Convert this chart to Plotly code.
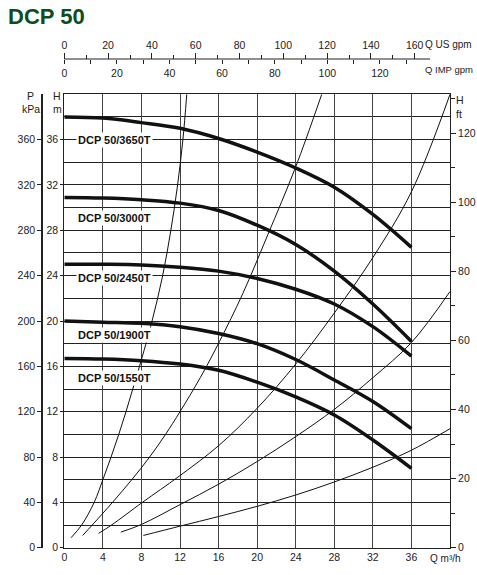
import plotly.graph_objects as go

# pump curves, Q in m3/h, H in m
q_pump = [0, 4, 8, 12, 16, 20, 24, 28, 32, 36]
h_3650 = [38.0, 37.9, 37.5, 37.0, 36.1, 34.9, 33.5, 31.8, 29.4, 26.5]
h_3000 = [30.9, 30.85, 30.7, 30.4, 29.75, 28.45, 26.75, 24.4, 21.5, 18.2]
h_2450 = [25.0, 25.0, 24.95, 24.75, 24.4, 23.75, 22.8, 21.5, 19.5, 16.9]
h_1900 = [20.0, 19.9, 19.8, 19.5, 18.9, 18.0, 16.6, 14.8, 12.9, 10.5]
h_1550 = [16.7, 16.65, 16.5, 16.2, 15.65, 14.6, 13.3, 11.7, 9.5, 7.0]
pump_names = ["DCP 50/3650T", "DCP 50/3000T", "DCP 50/2450T", "DCP 50/1900T", "DCP 50/1550T"]
label_h = [36.0, 29.1, 23.8, 18.8, 14.95]

# system curves (thin lines)
sys_a_q = [0.7, 1.8, 3.1, 4.0, 4.85, 5.65, 6.4, 7.1, 7.8, 9.1, 10.2, 11.05, 11.75, 12.3, 12.7]
sys_a_h = [0.88, 2, 4, 6, 8, 10, 12, 14, 16, 20, 24, 28, 32, 36, 40]
sys_b_q = [1.9, 2.9, 5.0, 7.0, 8.85, 10.5, 12.0, 14.1, 16.1, 18.5, 21.1, 24.0, 26.7]
sys_b_h = [1.08, 2, 4, 6, 8, 10, 12, 15, 18.2, 22.4, 27.6, 33.6, 40]
sys_c_q = [3.55, 4.9, 8.1, 11.9, 16.0, 20.0, 24.0, 28.0, 32.0, 36.0, 40.0]
sys_c_h = [1.26, 2, 4, 6.3, 9.0, 12.3, 16.2, 20.7, 25.6, 31.4, 40]
sys_d_q = [5.86, 8.0, 12.0, 16.0, 20.0, 24.0, 28.0, 32.0, 36.0, 40.0]
sys_d_h = [1.37, 2.05, 3.8, 5.6, 7.6, 9.8, 12.2, 15.0, 18.1, 22.6]
sys_e_q = [8.2, 12.0, 16.0, 20.0, 24.0, 28.0, 32.0, 36.0, 40.0]
sys_e_h = [1.08, 1.9, 2.75, 3.65, 4.65, 5.8, 7.1, 8.6, 10.5]

q_ticks = list(range(0, 40, 4))
h_ticks = list(range(0, 40, 4))
kpa_ticks = list(range(0, 400, 40))
ft_ticks = list(range(0, 140, 20))
ft_minor = list(range(10, 140, 20))
us_ticks = list(range(0, 180, 20))
us_minor = list(range(10, 160, 20))
imp_ticks = list(range(0, 140, 20))
imp_minor = list(range(10, 140, 20))

US_PER_M3H = 4.403
IMP_PER_M3H = 3.666
FT_PER_M = 1 / 0.3048

W, H = 477, 575
def px(x):
  return x / W
def py(y):
  return 1 - y / H

FONT = "Liberation Sans, Arial, sans-serif"
tick_font = dict(family=FONT, size=10.5, color="#222")

x0, x1 = px(64.3), px(450)
y0, y1 = py(547.7), py(94.3)

fig = go.Figure()

for q, h in [(sys_a_q, sys_a_h), (sys_b_q, sys_b_h), (sys_c_q, sys_c_h),
             (sys_d_q, sys_d_h), (sys_e_q, sys_e_h)]:
  fig.add_trace(go.Scatter(x=q, y=h, mode="lines",
                           line=dict(color="#111", width=1, shape="spline", smoothing=1),
                           hoverinfo="skip"))

for h in [h_3650, h_3000, h_2450, h_1900, h_1550]:
  fig.add_trace(go.Scatter(x=q_pump, y=h, mode="lines",
                           line=dict(color="#111", width=3.5, shape="spline", smoothing=1),
                           hoverinfo="skip"))

# invisible traces so that the extra unit axes get drawn
for xa, ya in [("x", "y2"), ("x", "y3"), ("x2", "y"), ("x3", "y")]:
  fig.add_trace(go.Scatter(x=[0], y=[0], xaxis=xa, yaxis=ya, mode="markers",
                           marker=dict(opacity=0), hoverinfo="skip"))

fig.update_layout(
  width=W, height=H, template="none", showlegend=False,
  margin=dict(l=0, r=0, t=0, b=0),
  plot_bgcolor="white", paper_bgcolor="white",
  xaxis=dict(domain=[x0, x1], range=[0, 40], tickvals=q_ticks, ticks="",
             showgrid=True, gridcolor="#444", gridwidth=1, zeroline=False,
             showline=True, linecolor="#222", linewidth=1, mirror=True,
             tickfont=tick_font),
  yaxis=dict(domain=[y0, y1], range=[0, 40], tickvals=h_ticks, ticks="outside",
             ticklen=3, tickcolor="#222", showgrid=True, gridcolor="#222", gridwidth=1.2,
             minor=dict(dtick=2, tick0=0, showgrid=True, gridcolor="#222", gridwidth=1.2, ticks=""),
             zeroline=False, showline=True, linecolor="#222", linewidth=1, mirror=True,
             tickfont=tick_font),
  yaxis2=dict(overlaying="y", anchor="free", position=px(42), side="left",
              range=[0, 400], tickvals=kpa_ticks, ticks="outside", ticklen=4,
              tickcolor="#222", showgrid=False, zeroline=False, showline=True,
              linecolor="#222", linewidth=1.5, tickfont=tick_font),
  yaxis3=dict(overlaying="y", anchor="x", side="right", range=[0, 40 * FT_PER_M],
              tickvals=ft_ticks, ticks="outside", ticklen=5, tickcolor="#222",
              minor=dict(tickvals=ft_minor, ticks="outside", ticklen=4,
                         tickcolor="#222", showgrid=False),
              showgrid=False, zeroline=False, showline=False, tickfont=tick_font),
  xaxis2=dict(overlaying="x", anchor="free", position=py(59), side="top",
              range=[0, 40 * US_PER_M3H], tickvals=us_ticks, ticks="outside",
              ticklen=6, tickcolor="#222",
              minor=dict(tickvals=us_minor, ticks="outside", ticklen=4, tickcolor="#222", showgrid=False),
              showgrid=False, zeroline=False, showline=False, tickfont=tick_font),
  xaxis3=dict(overlaying="x", anchor="free", position=py(59), side="bottom",
              range=[0, 40 * IMP_PER_M3H], tickvals=imp_ticks, ticks="outside",
              ticklen=4, tickcolor="#222",
              minor=dict(tickvals=imp_minor, ticks="outside", ticklen=4, tickcolor="#222", showgrid=False),
              showgrid=False, zeroline=False, showline=False, tickfont=tick_font),
)

# baseline shared by the two gpm scales, shorter than the plot width
fig.add_shape(type="line", xref="paper", yref="paper", x0=x0, x1=px(430),
              y0=py(59), y1=py(59), line=dict(color="#222", width=1.2))

def note(text, x, y, size=10.5, xanchor="center", color="#222"):
  fig.add_annotation(text=text, x=px(x), y=py(y), xref="paper", yref="paper",
                     xanchor=xanchor, yanchor="middle", showarrow=False,
                     font=dict(family=FONT, size=size, color=color))

fig.add_annotation(text="<b>DCP 50</b>", x=px(6), y=py(16), xref="paper", yref="paper",
                   xanchor="left", yanchor="middle", showarrow=False,
                   font=dict(family=FONT, size=22, color="#0b4d20"))

note("Q US gpm", 423, 45, size=10, xanchor="left")
note("Q IMP gpm", 423, 70, size=9.5, xanchor="left")
note("P", 31, 96)
note("kPa", 31, 109)
note("H", 57, 96)
note("m", 57, 109)
note("H", 454, 100, xanchor="left")
note("ft", 454, 114, xanchor="left")
note("Q m³/h", 445, 558, size=10)

for name, hl in zip(pump_names, label_h):
  fig.add_annotation(text="<b>%s</b>" % name, x=1.2, y=hl, xref="x", yref="y",
                     xanchor="left", yanchor="middle", showarrow=False, bgcolor="white",
                     borderpad=1, font=dict(family=FONT, size=11, color="#111"))

fig.write_html("out.html", config={"displayModeBar": False},
               post_script="document.body.style.margin='0';document.body.style.overflow='hidden';")
